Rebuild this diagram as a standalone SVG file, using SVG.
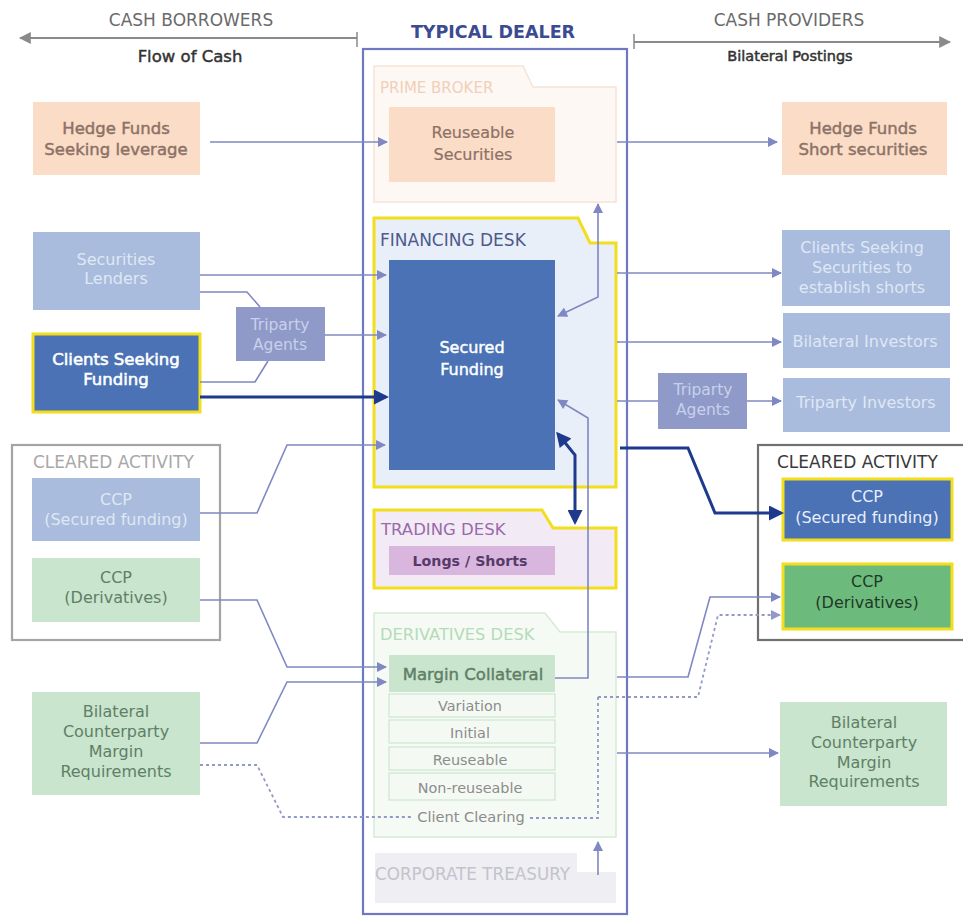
<svg xmlns="http://www.w3.org/2000/svg" width="963" height="917" viewBox="0 0 963 917">
<style>
text{font-family:"DejaVu Sans","Liberation Sans",sans-serif;font-size:16px}
.c{text-anchor:middle}
.hdr{fill:#6a6a6a;font-size:17px}
.lbl{font-size:17px}
.med{stroke-width:0.45}
.thin{fill:none;stroke:#7f88c2;stroke-width:1.6}
.dot{fill:none;stroke:#9298c8;stroke-width:1.8;stroke-dasharray:3 3}
.thick{fill:none;stroke:#1e3a8c;stroke-width:3}
.peach{fill:#fbdcc7}
.lblue{fill:#a9bcdd}
.dblue{fill:#4a72b5}
.tri{fill:#8f9ac8}
.lgreen{fill:#c9e5cd}
.ylw{stroke:#f3de1c;stroke-width:3}
.tpeach{fill:#8c7266;stroke:#8c7266}
.twhite{fill:#dfe7f4}
.ttri{fill:#c9d0ec}
.tgreen{fill:#5f7f66}
.sublist{fill:#f4faf3;stroke:#cfe6cf;stroke-width:1.2}
.tgray{fill:#8c8c8c;font-size:14.4px}
</style>
<defs>
<marker id="a" viewBox="0 0 10 10" refX="9" refY="5" markerUnits="userSpaceOnUse" markerWidth="11" markerHeight="10" orient="auto-start-reverse"><path d="M0,0 L10,5 L0,10 z" fill="#7f88c2"/></marker>
<marker id="ad" viewBox="0 0 10 10" refX="9" refY="5" markerUnits="userSpaceOnUse" markerWidth="11" markerHeight="10" orient="auto"><path d="M0,0 L10,5 L0,10 z" fill="#9298c8"/></marker>
<marker id="at" viewBox="0 0 10 10" refX="8" refY="5" markerUnits="userSpaceOnUse" markerWidth="17" markerHeight="15" orient="auto-start-reverse"><path d="M0,0 L10,5 L0,10 z" fill="#1e3a8c"/></marker>
<marker id="ag" viewBox="0 0 10 10" refX="9" refY="5" markerUnits="userSpaceOnUse" markerWidth="12" markerHeight="12" orient="auto-start-reverse"><path d="M0,0 L10,5 L0,10 z" fill="#8a8a8a"/></marker>
</defs>
<rect width="963" height="917" fill="#fff"/>

<g id="header">
<text class="hdr c" x="191" y="26">CASH BORROWERS</text>
<line x1="20" y1="38" x2="357" y2="38" stroke="#8a8a8a" stroke-width="2" marker-start="url(#ag)"/>
<line x1="357" y1="32" x2="357" y2="47" stroke="#8a8a8a" stroke-width="1.5"/>
<text class="c med" x="190" y="62" style="fill:#333;stroke:#333;font-size:16.5px">Flow of Cash</text>
<text class="c" x="493" y="38" style="font-size:17.5px;font-weight:bold;fill:#3b4a92">TYPICAL DEALER</text>
<text class="hdr c" x="789" y="26">CASH PROVIDERS</text>
<line x1="634" y1="42" x2="950" y2="42" stroke="#8a8a8a" stroke-width="2" marker-end="url(#ag)"/>
<line x1="634" y1="34" x2="634" y2="49" stroke="#8a8a8a" stroke-width="1.5"/>
<text class="c" x="790" y="61" style="fill:#333;stroke:#333;stroke-width:0.5;font-size:14.5px">Bilateral Postings</text>
</g>

<g id="dealer">
<rect x="363" y="49" width="264" height="865" fill="#fff" stroke="#7079bf" stroke-width="2.2"/>
</g>

<g id="prime-broker">
<path d="M374,66 H523 L533,87 H616 V202 H374 Z" fill="#fdf8f4" stroke="#f6e3d6" stroke-width="1.5"/>
<text x="380" y="93" style="fill:#f2cfb8;font-size:15px">PRIME BROKER</text>
</g>
<g id="reuseable-securities">
<rect class="peach" x="389" y="107" width="166" height="75"/>
<text class="c tpeach" x="473" y="138" style="stroke-width:0.2">Reuseable</text>
<text class="c tpeach" x="473" y="160" style="stroke-width:0.2">Securities</text>
</g>

<g id="financing-desk">
<path d="M374,218 H578 L590,243 H616 V487 H374 Z" fill="#e9eff8" class="ylw"/>
<text class="lbl" x="380" y="246" style="fill:#4d5a8c">FINANCING DESK</text>
</g>
<g id="secured-funding">
<rect class="dblue" x="389" y="260" width="166" height="210"/>
<text class="c med" x="472" y="353" style="fill:#fff;stroke:#fff">Secured</text>
<text class="c med" x="472" y="375" style="fill:#fff;stroke:#fff">Funding</text>
</g>

<g id="trading-desk">
<path d="M374,510 H542 L553,528 H616 V588 H374 Z" fill="#f2ebf6" class="ylw"/>
<text x="381" y="535" style="fill:#9a6aaa;font-size:16.5px">TRADING DESK</text>
</g>
<g id="longs-shorts">
<rect x="389" y="546" width="166" height="29" fill="#d8b6de"/>
<text class="c" x="470" y="566" style="fill:#573a68;font-weight:bold;font-size:14.2px">Longs / Shorts</text>
</g>

<g id="derivatives-desk">
<path d="M374,613 H545 L560,632 H616 V837 H374 Z" fill="#f5faf5" stroke="#d6ebd6" stroke-width="1.5"/>
<text x="380" y="640" style="fill:#b5dab8;font-size:16.3px">DERIVATIVES DESK</text>
</g>
<g id="margin-collateral">
<rect class="lgreen" x="389" y="655" width="166" height="37"/>
<text class="c tgreen med" x="473" y="680" style="font-size:16.5px;stroke:#5f7f66">Margin Collateral</text>
</g>
<g id="variation"><rect class="sublist" x="389" y="694" width="166" height="23"/><text class="c tgray" x="470" y="711">Variation</text></g>
<g id="initial"><rect class="sublist" x="389" y="720" width="166" height="23"/><text class="c tgray" x="470" y="738">Initial</text></g>
<g id="reuseable"><rect class="sublist" x="389" y="747" width="166" height="23"/><text class="c tgray" x="470" y="765">Reuseable</text></g>
<g id="non-reuseable"><rect class="sublist" x="389" y="773" width="166" height="27"/><text class="c tgray" x="470" y="793">Non-reuseable</text></g>
<g id="client-clearing"><text class="c" x="471" y="822" style="fill:#8c8c8c;font-size:14.6px">Client Clearing</text></g>

<g id="corporate-treasury">
<path d="M375,853 H577 V872 H616 V903 H375 Z" fill="#eeeef3"/>
<text x="375" y="880" style="fill:#c3c3cc;font-size:16.8px">CORPORATE TREASURY</text>
</g>

<g id="hedge-funds-left">
<rect class="peach" x="33" y="102" width="167" height="73"/>
<text class="c tpeach med" x="116" y="134" style="font-size:16.5px">Hedge Funds</text>
<text class="c tpeach med" x="116" y="155" style="font-size:16.5px">Seeking leverage</text>
</g>
<g id="securities-lenders">
<rect class="lblue" x="33" y="232" width="167" height="78"/>
<text class="c twhite" x="116" y="265">Securities</text>
<text class="c twhite" x="116" y="284">Lenders</text>
</g>
<g id="triparty-left">
<rect class="tri" x="236" y="307" width="89" height="54"/>
<text class="c ttri" x="280" y="330" style="font-size:15.5px">Triparty</text>
<text class="c ttri" x="280" y="350" style="font-size:15.5px">Agents</text>
</g>
<g id="clients-seeking-funding">
<rect class="dblue ylw" x="33" y="334" width="167" height="78"/>
<text class="c" x="116" y="365" style="fill:#fff;stroke:#fff;stroke-width:0.6;font-size:16.5px">Clients Seeking</text>
<text class="c" x="116" y="385" style="fill:#fff;stroke:#fff;stroke-width:0.6;font-size:16.5px">Funding</text>
</g>

<g id="cleared-left">
<rect x="12" y="445" width="208" height="195" fill="none" stroke="#a4a4a4" stroke-width="2.2"/>
<text class="lbl" x="33" y="468" style="fill:#a8a8a8">CLEARED ACTIVITY</text>
</g>
<g id="ccp-sf-left">
<rect class="lblue" x="32" y="478" width="168" height="63"/>
<text class="c twhite" x="116" y="505">CCP</text>
<text class="c twhite" x="116" y="525">(Secured funding)</text>
</g>
<g id="ccp-der-left">
<rect class="lgreen" x="32" y="558" width="168" height="64"/>
<text class="c tgreen" x="116" y="583">CCP</text>
<text class="c tgreen" x="116" y="603">(Derivatives)</text>
</g>
<g id="bilateral-left">
<rect class="lgreen" x="32" y="692" width="168" height="103"/>
<text class="c tgreen" x="116" y="717">Bilateral</text>
<text class="c tgreen" x="116" y="737">Counterparty</text>
<text class="c tgreen" x="116" y="757">Margin</text>
<text class="c tgreen" x="116" y="777">Requirements</text>
</g>

<g id="hedge-funds-right">
<rect class="peach" x="782" y="102" width="165" height="73"/>
<text class="c tpeach med" x="863" y="134" style="font-size:16.5px">Hedge Funds</text>
<text class="c tpeach med" x="863" y="155" style="font-size:16.5px">Short securities</text>
</g>
<g id="clients-seeking-securities">
<rect class="lblue" x="782" y="230" width="168" height="76"/>
<text class="c twhite" x="862" y="253">Clients Seeking</text>
<text class="c twhite" x="862" y="273">Securities to</text>
<text class="c twhite" x="862" y="293">establish shorts</text>
</g>
<g id="bilateral-investors">
<rect class="lblue" x="783" y="313" width="167" height="55"/>
<text class="c twhite" x="865" y="347">Bilateral Investors</text>
</g>
<g id="triparty-right">
<rect class="tri" x="658" y="373" width="89" height="56"/>
<text class="c ttri" x="703" y="395" style="font-size:15.5px">Triparty</text>
<text class="c ttri" x="703" y="415" style="font-size:15.5px">Agents</text>
</g>
<g id="triparty-investors">
<rect class="lblue" x="783" y="378" width="167" height="54"/>
<text class="c twhite" x="866" y="408">Triparty Investors</text>
</g>

<g id="cleared-right">
<rect x="758" y="445" width="210" height="195" fill="none" stroke="#707070" stroke-width="2.2"/>
<text class="lbl" x="777" y="468" style="fill:#3a3a3a">CLEARED ACTIVITY</text>
</g>
<g id="ccp-sf-right">
<rect class="dblue ylw" x="783" y="479" width="169" height="61"/>
<text class="c" x="867" y="502" style="fill:#e8eefa">CCP</text>
<text class="c" x="867" y="523" style="fill:#e8eefa">(Secured funding)</text>
</g>
<g id="ccp-der-right">
<rect class="ylw" x="783" y="564" width="169" height="65" fill="#6dba7d"/>
<text class="c" x="867" y="587" style="fill:#1f3a25">CCP</text>
<text class="c" x="867" y="608" style="fill:#1f3a25">(Derivatives)</text>
</g>
<g id="bilateral-right">
<rect class="lgreen" x="780" y="702" width="167" height="104"/>
<text class="c tgreen" x="864" y="728">Bilateral</text>
<text class="c tgreen" x="864" y="748">Counterparty</text>
<text class="c tgreen" x="864" y="768">Margin</text>
<text class="c tgreen" x="864" y="787">Requirements</text>
</g>

<g id="connectors">
<path class="thin" d="M210,142 H387" marker-end="url(#a)"/>
<path class="thin" d="M617,142 H777" marker-end="url(#a)"/>
<path class="thin" d="M200,275 H386" marker-end="url(#a)"/>
<path class="thin" d="M200,292 H247 L260,307"/>
<path class="thin" d="M325,335 H386" marker-end="url(#a)"/>
<path class="thin" d="M200,382 H255 L268,361"/>
<path class="thick" d="M200,397 H386" marker-end="url(#at)"/>
<path class="thin" d="M598,204 V297 L558,316" marker-start="url(#a)" marker-end="url(#a)"/>
<path class="thin" d="M617,273 H781" marker-end="url(#a)"/>
<path class="thin" d="M617,342 H781" marker-end="url(#a)"/>
<path class="thin" d="M617,401 H658"/>
<path class="thin" d="M747,401 H781" marker-end="url(#a)"/>
<path class="thin" d="M555,678 H588 V418 L558,400" marker-end="url(#a)"/>
<path class="thick" d="M575,522 V455 L558,434" marker-start="url(#at)" marker-end="url(#at)"/>
<path class="thick" d="M620,448 H688 L715,513 H781" marker-end="url(#at)"/>
<path class="thin" d="M200,513 H257 L287,445 H385" marker-end="url(#a)"/>
<path class="thin" d="M200,600 H257 L287,667 H386" marker-end="url(#a)"/>
<path class="thin" d="M200,743 H257 L287,682 H386" marker-end="url(#a)"/>
<path class="thin" d="M617,677 H688 L710,597 H780" marker-end="url(#a)"/>
<path class="dot" d="M598,697 H698 L718,615 H780" marker-end="url(#ad)"/>
<path class="dot" d="M200,765 H257 L283,817 H413"/>
<path class="dot" d="M530,818 H598 V697"/>
<path class="thin" d="M617,753 H778" marker-end="url(#a)"/>
<path class="thin" d="M598,875 V842" marker-end="url(#a)"/>
</g>
</svg>
